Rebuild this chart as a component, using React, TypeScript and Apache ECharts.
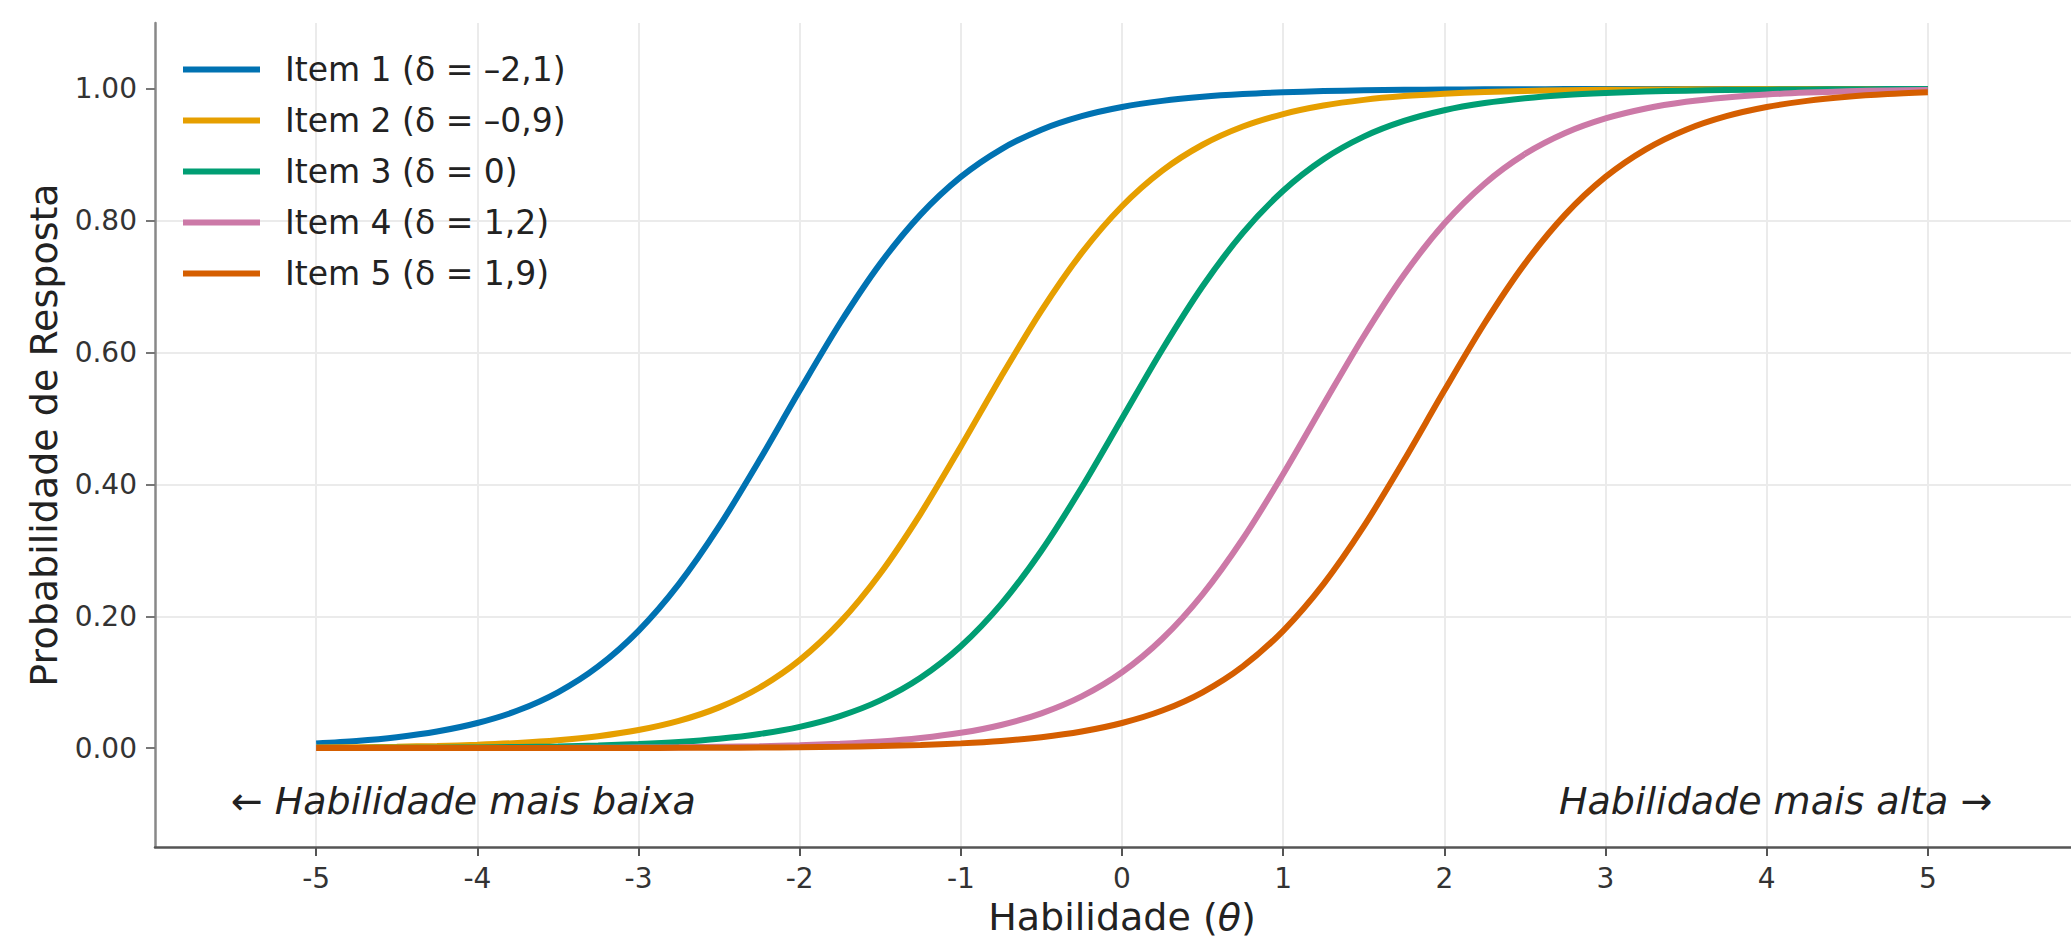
import React, { useEffect, useRef } from "react";
import * as echarts from "echarts";

const THETA = [
  -5, -4.75, -4.5, -4.25, -4, -3.75, -3.5, -3.25, -3, -2.75, -2.5, -2.25, -2, -1.75, -1.5, -1.25, -1, -0.75, -0.5, -0.25,
  0, 0.25, 0.5, 0.75, 1, 1.25, 1.5, 1.75, 2, 2.25, 2.5, 2.75, 3, 3.25, 3.5, 3.75, 4, 4.25, 4.5, 4.75, 5,
];

const ITEM1 = [
  0.0072, 0.0109, 0.0166, 0.0252, 0.0381, 0.057, 0.0847, 0.124, 0.178, 0.2488, 0.3363, 0.4366, 0.5424, 0.6445, 0.735,
  0.8093, 0.8665, 0.9084, 0.9382, 0.9587, 0.9726, 0.9819, 0.9881, 0.9922, 0.9949, 0.9967, 0.9978, 0.9986, 0.9991, 0.9994,
  0.9996, 0.9997, 0.9998, 0.9999, 0.9999, 1.0, 1.0, 1.0, 1.0, 1.0, 1.0,
];
const ITEM2 = [
  0.0009, 0.0014, 0.0022, 0.0033, 0.0051, 0.0078, 0.0119, 0.0181, 0.0274, 0.0413, 0.0618, 0.0916, 0.1335, 0.1907, 0.265,
  0.3555, 0.4576, 0.5634, 0.6637, 0.7512, 0.822, 0.876, 0.9153, 0.943, 0.9619, 0.9748, 0.9834, 0.9891, 0.9928, 0.9953,
  0.9969, 0.998, 0.9987, 0.9991, 0.9994, 0.9996, 0.9998, 0.9998, 0.9999, 0.9999, 1.0,
];
const ITEM3 = [
  0.0002, 0.0003, 0.0005, 0.0007, 0.0011, 0.0017, 0.0026, 0.004, 0.0061, 0.0092, 0.0141, 0.0214, 0.0323, 0.0486, 0.0724,
  0.1067, 0.1545, 0.2184, 0.2994, 0.3953, 0.5, 0.6047, 0.7006, 0.7816, 0.8455, 0.8933, 0.9276, 0.9514, 0.9677, 0.9786,
  0.9859, 0.9908, 0.9939, 0.996, 0.9974, 0.9983, 0.9989, 0.9993, 0.9995, 0.9997, 0.9998,
];
const ITEM4 = [
  0, 0, 0.0001, 0.0001, 0.0001, 0.0002, 0.0003, 0.0005, 0.0008, 0.0012, 0.0019, 0.0028, 0.0043, 0.0066, 0.01, 0.0153,
  0.0232, 0.0351, 0.0527, 0.0784, 0.115, 0.1659, 0.2333, 0.3176, 0.4158, 0.5212, 0.6248, 0.7181, 0.7957, 0.8563, 0.9012,
  0.9331, 0.9552, 0.9703, 0.9804, 0.9871, 0.9915, 0.9944, 0.9964, 0.9976, 0.9984,
];
const ITEM5 = [
  0, 0, 0, 0, 0, 0.0001, 0.0001, 0.0002, 0.0002, 0.0004, 0.0006, 0.0009, 0.0013, 0.002, 0.0031, 0.0047, 0.0072, 0.0109,
  0.0166, 0.0252, 0.0381, 0.057, 0.0847, 0.124, 0.178, 0.2488, 0.3363, 0.4366, 0.5424, 0.6445, 0.735, 0.8093, 0.8665,
  0.9084, 0.9382, 0.9587, 0.9726, 0.9819, 0.9881, 0.9922, 0.9949,
];

const SERIES_NAMES = [
  "Item 1 (δ = –2,1)",
  "Item 2 (δ = –0,9)",
  "Item 3 (δ = 0)",
  "Item 4 (δ = 1,2)",
  "Item 5 (δ = 1,9)",
];
const SERIES_VALUES = [ITEM1, ITEM2, ITEM3, ITEM4, ITEM5];
const COLORS = ["#0072B2", "#E69F00", "#009E73", "#CC79A7", "#D55E00"];

const X_TICKS = [-5, -4, -3, -2, -1, 0, 1, 2, 3, 4, 5];
const Y_TICKS = [0, 0.2, 0.4, 0.6, 0.8, 1.0];

const ANNOTATIONS = [
  { text: "← Habilidade mais baixa", x: -5.53, y: -0.08, align: "left" },
  { text: "Habilidade mais alta →", x: 5.4, y: -0.08, align: "right" },
];

const FONT = "DejaVu Sans";

export default function App() {
  const ref = useRef<HTMLDivElement>(null);

  useEffect(() => {
    if (!ref.current) return;
    const chart = echarts.init(ref.current, undefined, { renderer: "svg" });

    const option: any = {
      animation: false,
      backgroundColor: "#ffffff",
      textStyle: { fontFamily: FONT },
      grid: {
        left: 155,
        right: -18,
        top: 23,
        bottom: 93,
        containLabel: false,
        outerBoundsMode: "none",
      },
      legend: {
        orient: "vertical",
        left: 183,
        top: 53,
        padding: 0,
        icon: "rect",
        itemWidth: 77,
        itemHeight: 6,
        itemGap: 18,
        data: SERIES_NAMES,
        textStyle: {
          fontFamily: FONT,
          fontSize: 33,
          color: "#222",
          lineHeight: 33,
          padding: [0, 0, 0, 20],
        },
      },
      xAxis: {
        type: "value",
        min: -6,
        max: 6,
        interval: 1,
        name: "Habilidade ({i|θ})",
        nameLocation: "middle",
        nameGap: 51,
        nameTextStyle: {
          fontFamily: FONT,
          fontSize: 38,
          color: "#222",
          lineHeight: 38,
          rich: { i: { fontFamily: FONT, fontStyle: "italic", fontSize: 38, color: "#222" } },
        },
        axisLine: { show: true, onZero: false, lineStyle: { color: "#555", width: 2.5 } },
        axisTick: { show: true, length: 9, customValues: X_TICKS, lineStyle: { color: "#555", width: 2 } },
        axisLabel: {
          customValues: X_TICKS,
          margin: 17,
          fontFamily: FONT,
          fontSize: 28,
          lineHeight: 28,
          color: "#333",
          formatter: (v: number) => String(v),
        },
        splitLine: { show: true, lineStyle: { color: "#ebebeb", width: 2 } },
      },
      yAxis: {
        type: "value",
        min: -0.15,
        max: 1.1,
        name: "Probabilidade de Resposta",
        nameLocation: "middle",
        nameGap: 92,
        nameTextStyle: { fontFamily: FONT, fontSize: 38, color: "#222", lineHeight: 38 },
        axisLine: { show: true, onZero: false, lineStyle: { color: "#888", width: 2.5 } },
        axisTick: { show: true, length: 9, customValues: Y_TICKS, lineStyle: { color: "#777", width: 2 } },
        axisLabel: {
          customValues: Y_TICKS,
          margin: 18,
          fontFamily: FONT,
          fontSize: 28,
          color: "#333",
          formatter: (v: number) => v.toFixed(2),
        },
        splitLine: {
          show: true,
          showMinLine: false,
          showMaxLine: false,
          lineStyle: { color: "#ebebeb", width: 2 },
        },
      },
      series: SERIES_VALUES.map((vals, k) => ({
        name: SERIES_NAMES[k],
        type: "line",
        data: THETA.map((t, i) => [t, vals[i]]),
        smooth: 0.3,
        symbol: "none",
        showSymbol: false,
        color: COLORS[k],
        itemStyle: { color: COLORS[k] },
        lineStyle: { color: COLORS[k], width: 6 },
        z: 3 + k,
      })),
    };

    chart.setOption(option);

    const graphic = ANNOTATIONS.map((a) => {
      const p = chart.convertToPixel({ gridIndex: 0 }, [a.x, a.y]) as number[];
      return {
        type: "text",
        x: p[0],
        y: p[1],
        z: 10,
        style: {
          text: a.text,
          fontFamily: FONT,
          fontStyle: "italic",
          fontSize: 38,
          fill: "#222",
          align: a.align,
          verticalAlign: "middle",
        },
      };
    });
    chart.setOption({ graphic });

    return () => chart.dispose();
  }, []);

  return (
    <div
      ref={ref}
      style={{ position: "fixed", left: 0, top: 0, width: 2071, height: 940, background: "#fff" }}
    />
  );
}
